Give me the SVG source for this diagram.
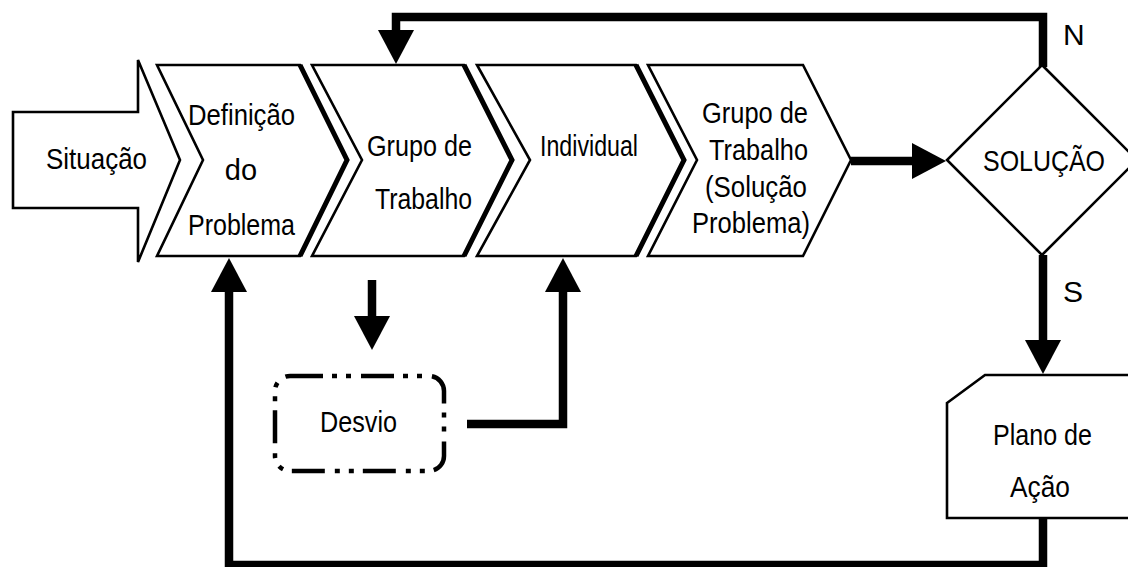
<svg xmlns="http://www.w3.org/2000/svg" width="1128" height="567" viewBox="0 0 1128 567">
<style>
  .shape { fill: #fff; stroke: #000; stroke-width: 2.6; stroke-linejoin: miter; }
  .edge { fill: none; stroke: #000; stroke-width: 5; stroke-linejoin: miter; }
  .conn { fill: none; stroke: #000; stroke-width: 8.5; stroke-linejoin: miter; }
  .dash { fill: #fff; stroke: #000; stroke-width: 4.5; stroke-dasharray: 33 9 5 9 5 10; }
  .t { font-family: "Liberation Sans Narrow", "Liberation Sans", Arial, sans-serif; font-size: 29px; fill: #000; }
  .lbl { font-family: "Liberation Sans", Arial, sans-serif; font-size: 30px; fill: #000; }
</style>
<defs>
  <marker id="ah" markerUnits="userSpaceOnUse" markerWidth="40" markerHeight="40" refX="0" refY="18" orient="auto" viewBox="0 0 40 40">
    <path d="M0,0 L34,18 L0,36 Z" fill="#000"/>
  </marker>
</defs>
<rect width="1128" height="567" fill="#fff"/>

<g id="situacao">
  <polygon class="shape" stroke-width="3.2" points="13,112 138,112 138,60 180,160 138,262 138,208 13,208"/>
  <text class="t" x="46" y="169" textLength="101" lengthAdjust="spacingAndGlyphs">Situação</text>
</g>

<g id="definicao">
  <polygon class="shape" points="157,65 300,65 347,160 300,256 157,256 203,160"/>
  <polyline class="edge" points="300,65 347,160 300,256"/>
  <text class="t" x="188" y="125" textLength="107" lengthAdjust="spacingAndGlyphs">Definição</text>
  <text class="t" x="241" y="180" text-anchor="middle">do</text>
  <text class="t" x="188" y="235" textLength="107" lengthAdjust="spacingAndGlyphs">Problema</text>
</g>

<g id="grupo1">
  <polygon class="shape" points="312,65 464,65 512,160 464,256 312,256 362,160"/>
  <polyline class="edge" points="464,65 512,160 464,256"/>
  <text class="t" x="367" y="156" textLength="105" lengthAdjust="spacingAndGlyphs">Grupo de</text>
  <text class="t" x="375" y="209" textLength="97" lengthAdjust="spacingAndGlyphs">Trabalho</text>
</g>

<g id="individual">
  <polygon class="shape" points="477,65 636,65 684,160 636,256 477,256 530,160"/>
  <polyline class="edge" points="636,65 684,160 636,256"/>
  <text class="t" x="540" y="156" font-size="26" textLength="98" lengthAdjust="spacingAndGlyphs">Individual</text>
</g>

<g id="grupo2">
  <polygon class="shape" points="648,65 803,65 851,160 803,256 648,256 697,160"/>
  <text class="t" x="702" y="123" textLength="106" lengthAdjust="spacingAndGlyphs">Grupo de</text>
  <text class="t" x="709" y="160" textLength="99" lengthAdjust="spacingAndGlyphs">Trabalho</text>
  <text class="t" x="705" y="197" textLength="102" lengthAdjust="spacingAndGlyphs">(Solução</text>
  <text class="t" x="692" y="233" textLength="118" lengthAdjust="spacingAndGlyphs">Problema)</text>
</g>

<g id="solucao">
  <polygon class="shape" stroke-width="3" points="1042,65 1137,160 1042,255 947,160"/>
  <text class="t" x="983" y="171" textLength="122" lengthAdjust="spacingAndGlyphs">SOLUÇÃO</text>
</g>

<g id="desvio">
  <rect class="dash" x="275" y="376" width="169" height="95" rx="15" ry="15"/>
  <text class="t" x="320" y="432" textLength="77" lengthAdjust="spacingAndGlyphs">Desvio</text>
</g>

<g id="plano">
  <path class="shape" stroke-width="3" d="M947,403 L985,375 L1140,375 L1140,518 L947,518 Z"/>
  <text class="t" x="993" y="445" textLength="99" lengthAdjust="spacingAndGlyphs">Plano de</text>
  <text class="t" x="1010" y="497" textLength="60" lengthAdjust="spacingAndGlyphs">Ação</text>
</g>

<g id="connectors">
  <polyline class="conn" points="1043,67 1043,17 396,17 396,30" marker-end="url(#ah)"/>
  <polyline class="conn" points="851,161 912,161" marker-end="url(#ah)"/>
  <polyline class="conn" points="372,280 372,316" marker-end="url(#ah)"/>
  <polyline class="conn" points="467,424 563,424 563,292" marker-end="url(#ah)"/>
  <polyline class="conn" points="1043,255 1043,340" marker-end="url(#ah)"/>
  <polyline class="conn" points="1043,518 1043,565 229,565 229,292" marker-end="url(#ah)"/>
</g>

<g id="labels">
  <text class="lbl" x="1063" y="45">N</text>
  <text class="lbl" x="1063" y="302">S</text>
</g>
</svg>
